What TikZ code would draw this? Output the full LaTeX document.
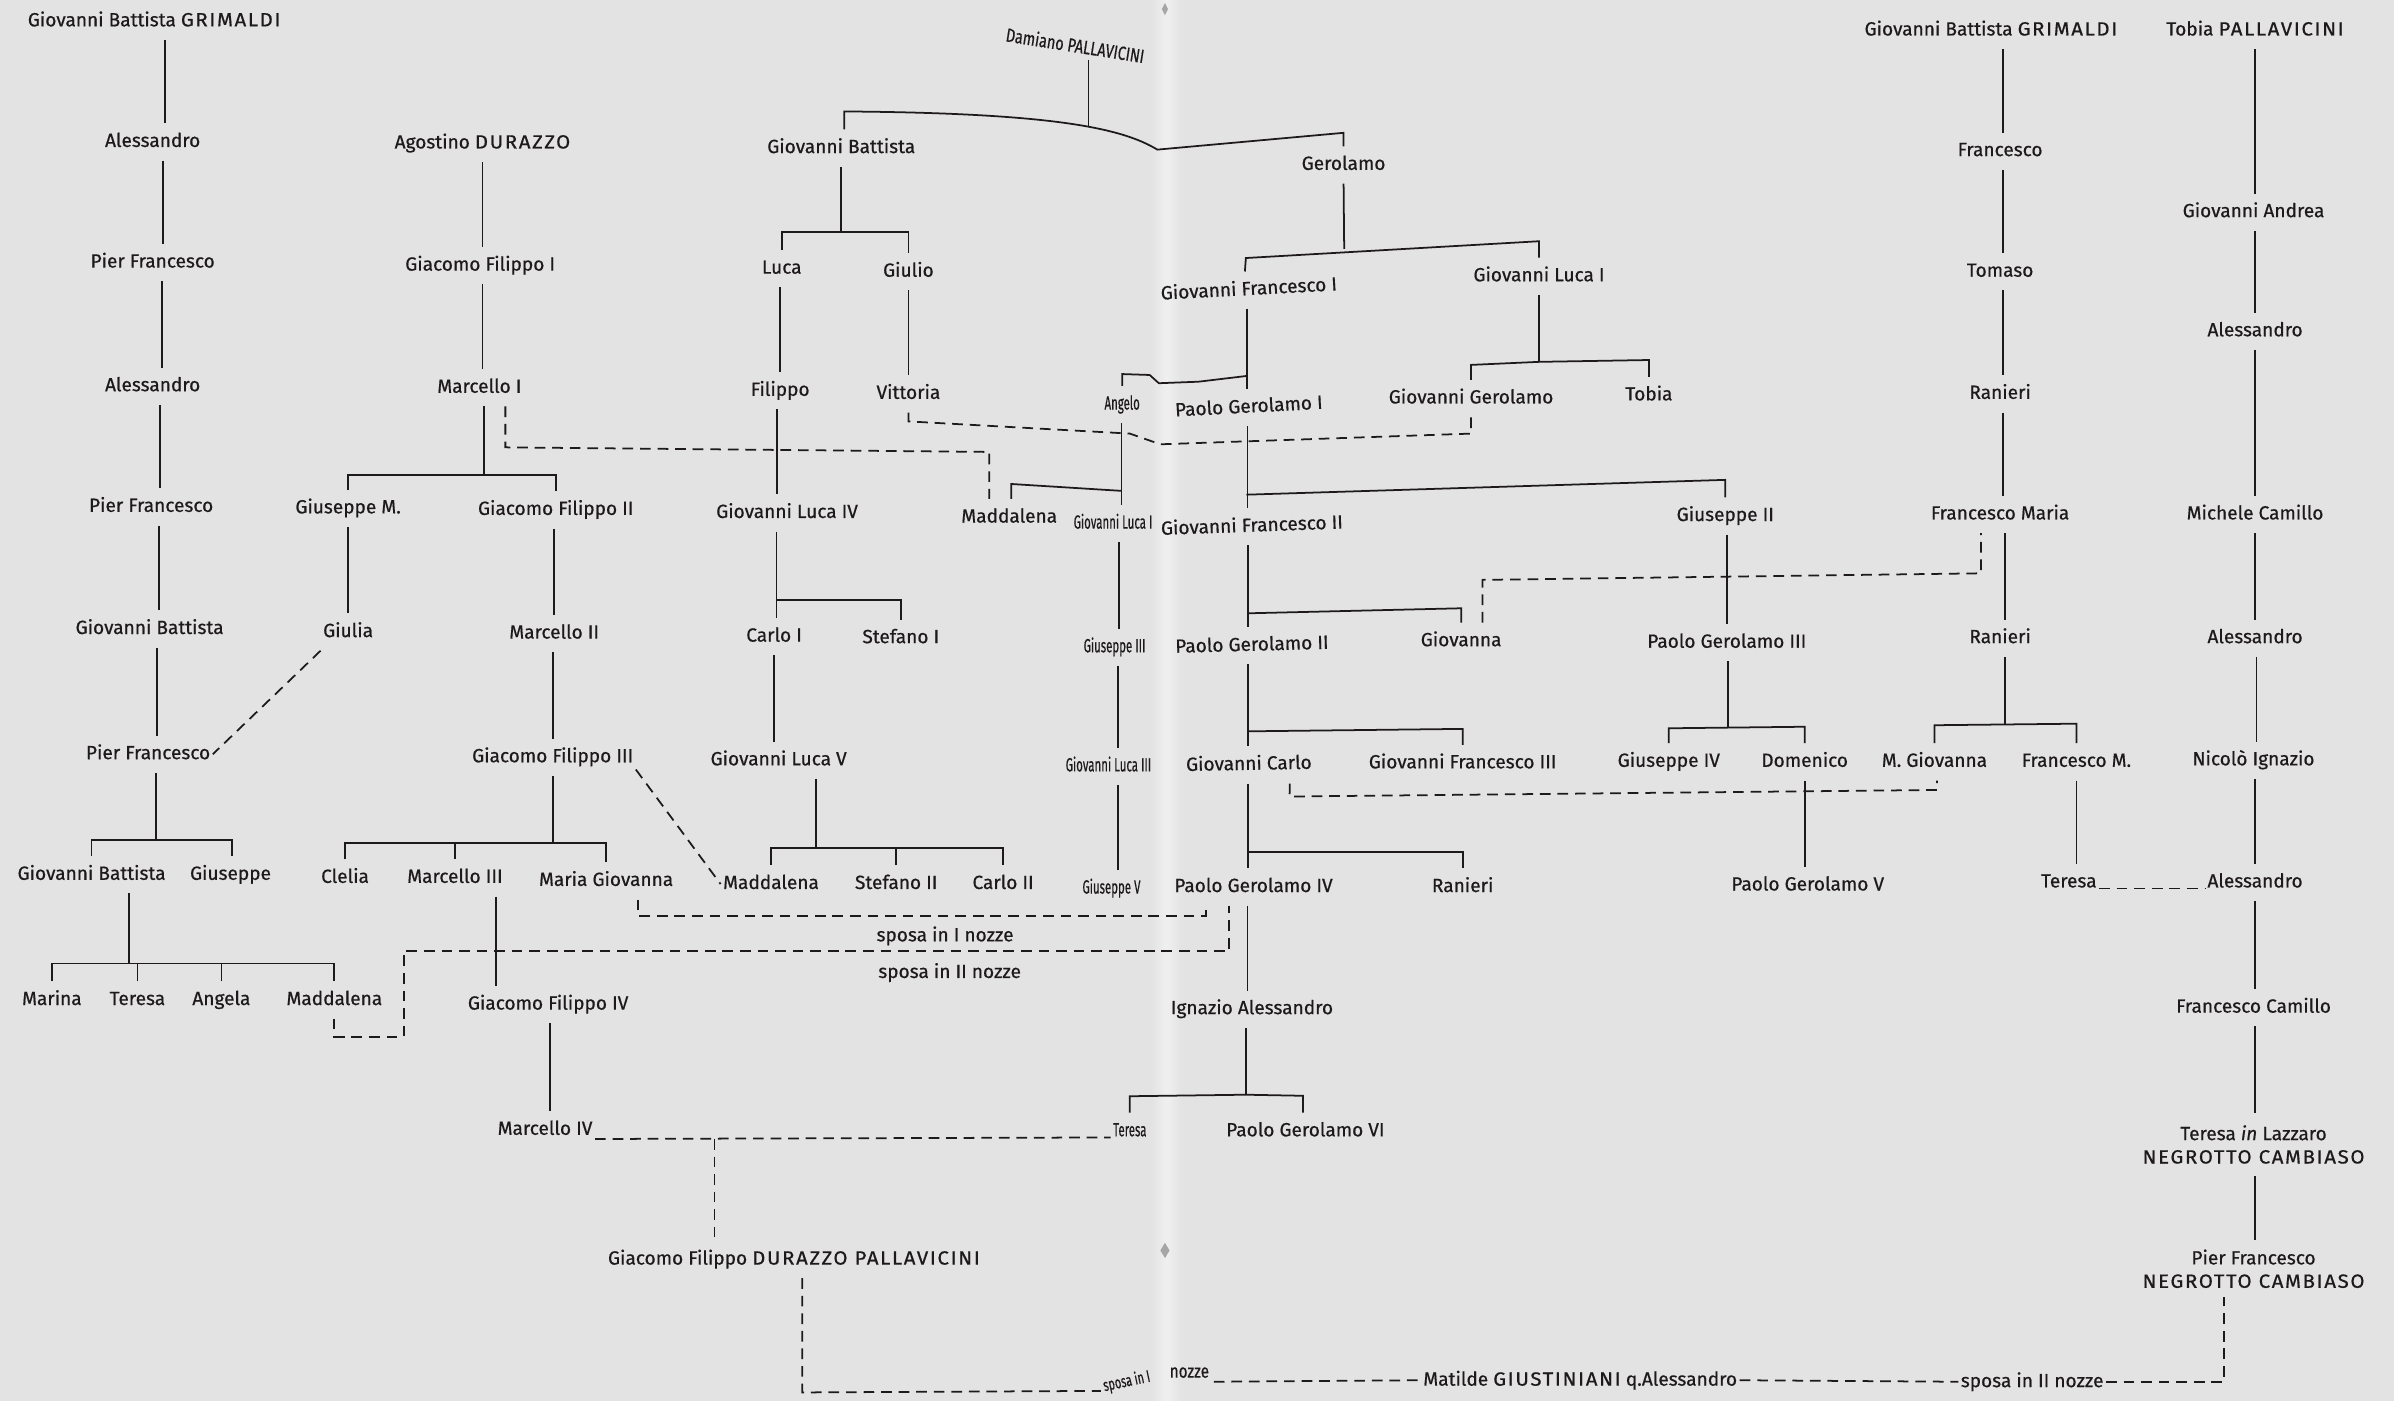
\documentclass[tikz,border=0pt]{standalone}
\usepackage{fontspec}
\setmainfont{Fira Sans}[FakeBold=0.6]
\usetikzlibrary{calc}
\definecolor{bg}{HTML}{E3E3E3}
\definecolor{ink}{HTML}{1E1A1B}
\tikzset{
  nm/.style={font=\fontsize{12.5}{15}\selectfont, text=ink, inner xsep=1.5pt, inner ysep=6.25pt, text height=9pt, text depth=2.5pt},
  nm2/.style={font=\fontsize{12.5}{15.3}\selectfont, text=ink, align=center, inner xsep=1.5pt, inner ysep=8pt},
  lb/.style={font=\fontsize{12.5}{15}\selectfont, text=ink, inner sep=1.5pt},
  ln/.style={draw=ink, line width=1.15pt},
  dl/.style={draw=ink, line width=1.15pt, dash pattern=on 7pt off 4.5pt},
}
\newcommand{\cnd}[1]{\scalebox{0.6}[1]{#1}}
\newcommand{\CP}[1]{\scalebox{1.07}[1]{\addfontfeatures{LetterSpace=8}#1}}
\newcommand{\vc}[3]{\draw[ln] ([xshift=#3pt]#1.south) -- ([xshift=#3pt]#1.south |- #2.north);}
\begin{document}
\begin{tikzpicture}[x=1pt,y=-1pt]
\useasboundingbox (0,0) rectangle (1568,917.6);
\fill[bg] (0,0) rectangle (1568,917.6);
\shade[left color=bg, right color=bg, middle color=white!45!bg] (754,0) rectangle (774,917.6);
\fill[gray!70] (763,2) -- (765,6) -- (763,10) -- (761,6) -- cycle;
\fill[gray!70] (763,814) -- (766,819) -- (763,824) -- (760,819) -- cycle;

% ---------- left GRIMALDI ----------
\node[nm] (gA) at (101,14) {Giovanni Battista \CP{GRIMALDI}};
\node[nm] (gB) at (100,93) {Alessandro};
\node[nm] (gC) at (100,172) {Pier Francesco};
\node[nm] (gD) at (100,253) {Alessandro};
\node[nm] (gE) at (99,332) {Pier Francesco};
\node[nm] (gF) at (98,412) {Giovanni Battista};
\node[nm] (gG) at (97,494) {Pier Francesco};
\node[nm] (gH) at (60,573) {Giovanni Battista};
\node[nm] (gI) at (151,573) {Giuseppe};
\node[nm] (gJ) at (34,655) {Marina};
\node[nm] (gK) at (90,655) {Teresa};
\node[nm] (gL) at (145,655) {Angela};
\node[nm] (gM) at (219,655) {Maddalena};

% ---------- DURAZZO ----------
\node[nm] (dA) at (316,94) {Agostino \CP{DURAZZO}};
\node[nm] (dB) at (314.5,174) {Giacomo Filippo I};
\node[nm] (dC) at (314,254) {Marcello I};
\node[nm] (dD) at (228,333) {Giuseppe M.};
\node[nm] (dE) at (364,334) {Giacomo Filippo II};
\node[nm] (dF) at (228,414) {Giulia};
\node[nm] (dG) at (363,415) {Marcello II};
\node[nm] (dH) at (362,496) {Giacomo Filippo III};
\node[nm] (dI) at (226,575) {Clelia};
\node[nm] (dJ) at (298,575) {Marcello III};
\node[nm] (dK) at (397,577) {Maria Giovanna};
\node[nm] (dL) at (359,658) {Giacomo Filippo IV};
\node[nm] (dM) at (357,740) {Marcello IV};
\node[nm] (dN) at (520,825) {Giacomo Filippo \CP{DURAZZO PALLAVICINI}};

% ---------- PALLAVICINI (left page) ----------
\node[nm, rotate=-9] (pA) at (704,31) {\scalebox{0.76}[1]{Damiano PALLAVICINI}};
\node[nm] (pB) at (551,97) {Giovanni Battista};
\node[nm] (pC) at (880,108) {Gerolamo};
\node[nm] (pD) at (512,176) {Luca};
\node[nm] (pE) at (595,178) {Giulio};
\node[nm] (pF) at (511,256) {Filippo};
\node[nm] (pG) at (595,258) {Vittoria};
\node[nm] (pH) at (515.5,336) {Giovanni Luca IV};
\node[nm] (pI) at (507,417) {Carlo I};
\node[nm] (pJ) at (590,418) {Stefano I};
\node[nm] (pK) at (510,498) {Giovanni Luca V};
\node[nm] (pL) at (505,579) {Maddalena};
\node[nm] (pM) at (587,579) {Stefano II};
\node[nm] (pN) at (657,579) {Carlo II};
\node[nm] (pO) at (735,265) {\cnd{Angelo}};
\node[nm] (pP) at (661,339) {Maddalena};
\node[nm] (pQ) at (729,343) {\cnd{Giovanni Luca I}};
\node[nm] (pR) at (730,424) {\cnd{Giuseppe III}};
\node[nm] (pS) at (726,502) {\cnd{Giovanni Luca III}};
\node[nm] (pT) at (728,582) {\cnd{Giuseppe V}};

% ---------- PALLAVICINI (right page) ----------
\node[nm, rotate=3] (qA) at (818,190) {Giovanni Francesco I};
\node[nm] (qB) at (1008,181) {Giovanni Luca I};
\node[nm, rotate=3] (qC) at (818,267) {Paolo Gerolamo I};
\node[nm] (qD) at (963.5,261) {Giovanni Gerolamo};
\node[nm] (qE) at (1080,259) {Tobia};
\node[nm, rotate=2] (qF) at (820,345) {Giovanni Francesco II};
\node[nm] (qG) at (1130,338) {Giuseppe II};
\node[nm, rotate=1.5] (qH) at (820,423) {Paolo Gerolamo II};
\node[nm] (qI) at (957,420) {Giovanna};
\node[nm] (qJ) at (1131,421) {Paolo Gerolamo III};
\node[nm, rotate=1] (qK) at (818,501) {Giovanni Carlo};
\node[nm] (qL) at (958,500) {Giovanni Francesco III};
\node[nm] (qM) at (1093,499) {Giuseppe IV};
\node[nm] (qN) at (1182,499) {Domenico};
\node[nm] (qO) at (821,581) {Paolo Gerolamo IV};
\node[nm] (qP) at (958,581) {Ranieri};
\node[nm] (qQ) at (1184,580) {Paolo Gerolamo V};
\node[nm] (qR) at (820,661) {Ignazio Alessandro};
\node[nm] (qS) at (740,741) {\cnd{Teresa}};
\node[nm] (qT) at (855,741) {Paolo Gerolamo VI};
\node[lb] (qU) at (1035,904) {Matilde \CP{GIUSTINIANI} q.Alessandro};

% ---------- right GRIMALDI ----------
\node[nm] (rA) at (1304,20) {Giovanni Battista \CP{GRIMALDI}};
\node[nm] (rB) at (1310,99) {Francesco};
\node[nm] (rC) at (1310,178) {Tomaso};
\node[nm] (rD) at (1310,258) {Ranieri};
\node[nm] (rE) at (1310,337) {Francesco Maria};
\node[nm] (rF) at (1310,418) {Ranieri};
\node[nm] (rG) at (1267,499) {M. Giovanna};
\node[nm] (rH) at (1360,499) {Francesco M.};
\node[nm] (rI) at (1355,578) {Teresa};

% ---------- TOBIA PALLAVICINI ----------
\node[nm] (tA) at (1477,20) {Tobia \CP{PALLAVICINI}};
\node[nm] (tB) at (1476,139) {Giovanni Andrea};
\node[nm] (tC) at (1477,217) {Alessandro};
\node[nm] (tD) at (1477,337) {Michele Camillo};
\node[nm] (tE) at (1477,418) {Alessandro};
\node[nm] (tF) at (1476,498) {Nicolò Ignazio};
\node[nm] (tG) at (1477,578) {Alessandro};
\node[nm] (tH) at (1476,660) {Francesco Camillo};
\node[nm2] (tI) at (1476,749.6) {Teresa \textit{in} Lazzaro\\\CP{NEGROTTO CAMBIASO}};
\node[nm2, inner ysep=6pt] (tJ) at (1476,831) {Pier Francesco\\\CP{NEGROTTO CAMBIASO}};

% ---------- labels ----------
\node[lb] (l1) at (619,613) {sposa in I nozze};
\node[lb] (l2) at (622,637) {sposa in II nozze};
\node[lb, rotate=12, font=\fontsize{11}{13}\selectfont] (l3) at (738,905) {\scalebox{0.65}[1]{sposa in I}};
\node[lb] (l4) at (779,899) {\scalebox{0.8}[1]{nozze}};
\node[lb] (l5) at (1331,905) {sposa in II nozze};

% ---------- solid connectors ----------
\vc{gA}{gB}{7}
\vc{gB}{gC}{7}
\vc{gC}{gD}{6}
\vc{gD}{gE}{5}
\vc{gE}{gF}{5}
\vc{gF}{gG}{5}
\draw[ln] ([xshift=5pt]gG.south) -- (102,550);
\draw[ln] (gH.north) -- (60,550) -- (152,550) -- ([xshift=1pt]gI.north);
\draw[ln] ([xshift=24.5pt]gH.south) -- (84.5,631);
\draw[ln] (gJ.north) -- (34,631) -- (219,631) -- (gM.north);
\draw[ln] (gK.north) -- (90,631);
\draw[ln] (gL.north) -- (145,631);

\vc{dA}{dB}{0}
\vc{dB}{dC}{1.5}
\draw[ln] ([xshift=3pt]dC.south) -- (317,311);
\draw[ln] (dD.north) -- (228,311) -- (364,311) -- (dE.north);
\vc{dD}{dF}{0}
\vc{dE}{dG}{-1}
\vc{dG}{dH}{-1}
\draw[ln] (dH.south) -- (362,552);
\draw[ln] (dI.north) -- (226,552) -- (397,552) -- (dK.north);
\draw[ln] (dJ.north) -- (298,552);
\vc{dJ}{dL}{27}
\vc{dL}{dM}{1}

\draw[ln] (713,39) -- (713,83);
\draw[ln] ([xshift=2pt]pB.north) -- (553,73) .. controls (690,74) and (735,84) .. (758,98) -- (880,87) -- (pC.north);
\draw[ln] (pB.south) -- (551,152);
\draw[ln] (pD.north) -- (512,152) -- (595,152) -- (pE.north);
\vc{pD}{pF}{-1}
\vc{pE}{pG}{0}
\vc{pF}{pH}{-2}
\vc{pH}{pI}{-7}
\draw[ln] (508.5,393) -- (590,393) -- (pJ.north);
\vc{pI}{pK}{0}
\draw[ln] ([xshift=24.6pt]pK.south) -- (534.6,555.5);
\draw[ln] (pL.north) -- (505,555.5) -- (657,555.5) -- (pN.north);
\draw[ln] (pM.north) -- (587,555.5);
\draw[ln] (pO.north) -- (735,245) -- (753,245.6) -- (759,251) -- (785,250) -- (816,246.3);
\vc{pO}{pQ}{-0.5}
\draw[ln] ([xshift=1.4pt]pP.north) -- (662.4,317) -- (734.5,321.5);
\vc{pQ}{pR}{4}
\vc{pR}{pS}{2}
\vc{pS}{pT}{6}

\draw[ln] (pC.south) -- (880.4,163);
\draw[ln] ([xshift=-2pt]qA.north) -- (816,169) -- (1008,158) -- (qB.north);
\vc{qA}{qC}{-2}
\draw[ln] (qB.south) -- (1008,237);
\draw[ln] (qD.north) -- (963.5,239) -- (1008,237) -- (1080,235.8) -- (qE.north);
\vc{qC}{qF}{-1.6}
\draw[ln] (816.4,324) -- (1130,314.3) -- (qG.north);
\vc{qF}{qH}{-3}
\draw[ln] (817,401.7) -- (957,398.4) -- (qI.north);
\vc{qG}{qJ}{1}
\vc{qH}{qK}{-3}
\draw[ln] (817,479) -- (958,477.4) -- (qL.north);
\draw[ln] ([xshift=1pt]qJ.south) -- (1132,476);
\draw[ln] (qM.north) -- (1093,477) -- (1182,476) -- (qN.north);
\vc{qN}{qQ}{0}
\vc{qK}{qO}{-1}
\draw[ln] (817,557.8) -- (958,557.8) -- (qP.north);
\vc{qO}{qR}{-4}
\draw[ln] ([xshift=-4pt]qR.south) -- (816,717);
\draw[ln] (qS.north) -- (740,718) -- (816,717) -- (853.4,717.7) -- ([xshift=-1.6pt]qT.north);

\vc{rA}{rB}{8}
\vc{rB}{rC}{2}
\vc{rC}{rD}{2}
\vc{rD}{rE}{2}
\vc{rE}{rF}{3}
\draw[ln] ([xshift=3pt]rF.south) -- (1313,474);
\draw[ln] (rG.north) -- (1267,475) -- (1360,474) -- (rH.north);
\vc{rH}{rI}{0}

\vc{tA}{tB}{0}
\vc{tB}{tC}{1}
\vc{tC}{tD}{0}
\vc{tD}{tE}{0}
\vc{tE}{tF}{1}
\vc{tF}{tG}{1}
\vc{tG}{tH}{0}
\vc{tH}{tI}{1}
\vc{tI}{tJ}{1}

% ---------- dashed connectors ----------
\draw[dl] (dF.south west) -- (gG.east);
\draw[dl] ([yshift=-8pt]dH.east) -- (pL.west);
\draw[dl] ([xshift=17pt]dC.south) -- (331,293) -- (648,296) -- ([xshift=-13pt]pP.north);
\draw[dl] (pG.south) -- (595,276) -- (740,284) -- (760,291) -- (963.5,284) -- (qD.south);
\draw[dl] ([xshift=14pt]qI.north) -- (971,379.8) -- (1297.4,375.5) -- ([xshift=-12.6pt]rE.south);
\draw[dl] ([xshift=26.6pt]qK.south) -- (844.6,521.7) -- (1268.6,517.4) -- ([xshift=1.6pt]rG.south);
\draw[dl] ([xshift=21pt]dK.south) -- (418,600) -- (790,600) -- ([xshift=-31pt]qO.south);
\draw[dl] (gM.south) -- (219,679) -- (264.5,679) -- (264.5,623) -- (805,623) -- ([xshift=-16pt]qO.south);
\draw[dl] ([yshift=-6pt]dM.east) -- ([yshift=-4pt]qS.west);
\coordinate (mt) at (468,746);
\draw[dl] (mt) -- ([xshift=-52pt]dN.north);
\draw[dl] ([xshift=5.4pt]dN.south) -- (525.4,912) -- (721,911);
\draw[dl] (795,905) -- (qU.west);
\draw[dl] (qU.east) -- (l5.west);
\draw[dl] (l5.east) -- (1456.6,905) -- ([xshift=-19.4pt]tJ.south);
\draw[dl] ([yshift=-4pt]rI.east) -- ([yshift=-4pt]tG.west);
\end{tikzpicture}
\end{document}
